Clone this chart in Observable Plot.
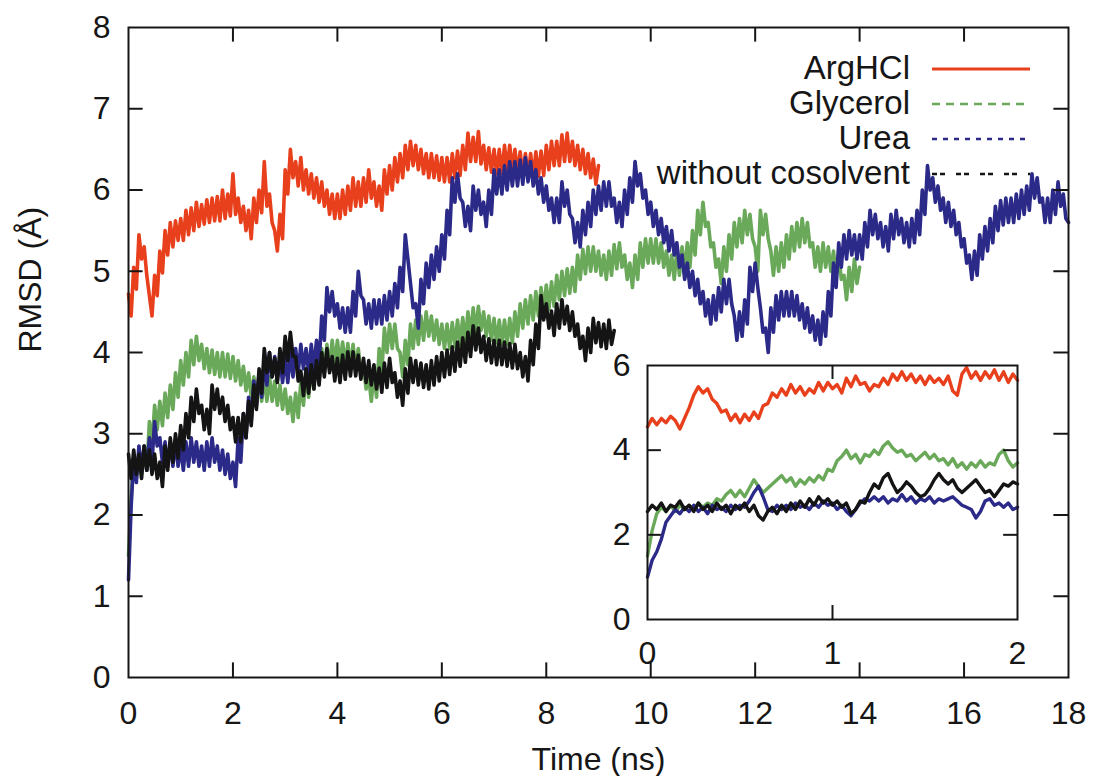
<!DOCTYPE html>
<html>
<head>
<meta charset="utf-8">
<script src="https://cdn.jsdelivr.net/npm/d3@7"></script>
<script src="https://cdn.jsdelivr.net/npm/@observablehq/plot@0.6"></script>
<style>
  body { margin: 0; background: #fff; }
  #wrap { position: relative; width: 1093px; height: 776px; font-family: "Liberation Sans", Arial, sans-serif; }
  #wrap svg { position: absolute; overflow: visible; }
</style>
</head>
<body>
<div id="wrap"></div>
<script>
// ---------- data (RMSD in Å), upper/lower swings of the noisy traces ----------
const mainStep = 0.05;   // ns between samples, main panel
const insetStep = 0.025; // ns between samples, inset

const argHCl = [4.72,4.45,5.05,4.78,5.45,5.15,5.3,4.95,4.7,4.45,
  4.95,4.7,5.25,4.98,5.5,5.2,5.6,5.3,5.62,5.38,
  5.65,5.38,5.75,5.45,5.78,5.5,5.85,5.55,5.82,5.58,
  5.88,5.6,5.9,5.62,5.92,5.62,6.0,5.65,5.95,5.68,
  6.2,5.7,5.9,5.6,5.8,5.5,5.75,5.4,5.9,5.6,
  6.0,5.72,6.35,5.8,5.95,5.6,5.5,5.25,5.7,5.4,
  6.25,5.95,6.5,6.15,6.35,6.05,6.4,6.0,6.25,5.95,
  6.2,5.9,6.15,5.85,6.1,5.8,6.0,5.7,5.95,5.65,
  5.95,5.65,6.0,5.7,6.05,5.75,6.15,5.8,6.1,5.8,
  6.15,5.85,6.25,5.9,6.1,5.8,6.05,5.75,6.25,5.95,
  6.3,6.0,6.4,6.1,6.45,6.15,6.55,6.25,6.6,6.3,
  6.55,6.25,6.5,6.2,6.45,6.15,6.45,6.15,6.42,6.12,
  6.4,6.1,6.4,6.1,6.45,6.15,6.48,6.18,6.55,6.25,
  6.7,6.35,6.65,6.35,6.72,6.32,6.55,6.25,6.52,6.22,
  6.5,6.2,6.5,6.2,6.55,6.25,6.55,6.25,6.5,6.2,
  6.47,6.17,6.45,6.15,6.45,6.15,6.47,6.17,6.48,6.18,
  6.55,6.25,6.6,6.3,6.6,6.3,6.68,6.35,6.7,6.35,
  6.6,6.3,6.55,6.25,6.5,6.2,6.45,6.15,6.38,6.07,
  6.3];

const glycerol = [1.5,2.2,2.7,2.45,2.75,2.5,2.85,2.55,3.15,2.85,
  3.35,3.05,3.4,3.1,3.5,3.2,3.6,3.3,3.75,3.45,
  3.9,3.6,4.0,3.7,4.15,3.85,4.2,3.9,4.1,3.8,
  4.05,3.75,4.03,3.73,4.0,3.7,4.0,3.7,3.98,3.68,
  3.95,3.65,3.9,3.6,3.83,3.53,3.75,3.45,3.7,3.4,
  3.7,3.4,3.7,3.4,3.7,3.4,3.65,3.35,3.6,3.3,
  3.55,3.25,3.45,3.15,3.5,3.2,3.65,3.35,3.75,3.45,
  3.85,3.55,3.95,3.65,4.05,3.75,4.1,3.8,4.15,3.85,
  4.15,3.85,4.13,3.83,4.11,3.81,4.1,3.8,4.05,3.75,
  3.85,3.55,3.7,3.4,3.75,3.45,4.05,3.75,4.3,4.0,
  4.35,4.05,4.35,4.05,4.0,3.7,4.15,3.85,4.35,4.05,
  4.4,4.1,4.45,4.15,4.5,4.2,4.45,4.15,4.4,4.1,
  4.35,4.05,4.35,4.05,4.37,4.07,4.4,4.1,4.43,4.13,
  4.5,4.2,4.55,4.25,4.57,4.27,4.5,4.2,4.45,4.15,
  4.42,4.12,4.4,4.1,4.4,4.1,4.42,4.12,4.5,4.2,
  4.6,4.3,4.65,4.35,4.7,4.4,4.75,4.45,4.8,4.5,
  4.83,4.53,4.87,4.57,4.95,4.65,5.0,4.7,5.03,4.73,
  5.05,4.75,5.2,4.9,5.27,4.97,5.3,5.0,5.3,5.0,
  5.25,4.95,5.2,4.9,5.25,4.95,5.33,5.03,5.35,5.05,
  5.2,4.9,5.1,4.8,5.2,4.9,5.35,5.05,5.4,5.1,
  5.4,5.1,5.4,5.1,5.35,5.05,5.25,4.95,5.2,4.9,
  5.25,4.95,5.3,5.0,5.35,5.05,5.5,5.2,5.75,5.45,
  5.85,5.55,5.6,5.3,5.35,5.05,5.15,4.85,5.3,5.0,
  5.45,5.15,5.6,5.3,5.65,5.35,5.75,5.45,5.7,5.4,
  5.3,5.0,5.75,5.45,5.7,5.4,5.25,4.95,5.3,5.0,
  5.35,5.05,5.45,5.15,5.55,5.25,5.6,5.3,5.65,5.35,
  5.6,5.3,5.35,5.05,5.3,5.0,5.35,5.05,5.3,5.0,
  5.25,4.95,5.2,4.9,4.95,4.65,5.05,4.75,5.15,4.85,
  5.05];

const urea = [1.2,2.1,2.7,2.4,2.85,2.55,2.85,2.55,2.95,2.65,
  3.15,2.85,2.95,2.65,2.9,2.6,2.9,2.6,2.9,2.6,
  2.85,2.55,2.9,2.6,2.95,2.65,2.9,2.6,2.85,2.55,
  2.9,2.6,2.95,2.65,2.85,2.55,2.8,2.5,2.75,2.45,
  2.65,2.35,2.95,2.65,3.25,2.95,3.45,3.15,3.65,3.35,
  3.75,3.45,3.9,3.6,4.0,3.7,3.95,3.65,3.93,3.63,
  3.93,3.63,4.0,3.7,4.05,3.75,4.1,3.8,4.05,3.75,
  4.1,3.8,4.15,3.85,4.45,4.15,4.8,4.5,4.75,4.45,
  4.6,4.3,4.55,4.25,4.55,4.25,4.75,4.45,5.0,4.7,
  4.65,4.35,4.6,4.3,4.65,4.35,4.65,4.35,4.7,4.4,
  4.75,4.45,4.85,4.55,5.05,4.75,5.45,5.15,4.85,4.55,
  4.6,4.3,4.9,4.6,5.1,4.8,5.2,4.9,5.3,5.0,
  5.45,5.15,5.75,5.45,6.15,5.85,6.2,5.9,5.85,5.55,
  5.8,5.5,6.05,5.75,6.0,5.7,5.85,5.55,6.0,5.7,
  6.25,5.95,6.25,5.95,6.3,6.0,6.35,6.05,6.35,6.05,
  6.37,6.07,6.4,6.1,6.35,6.05,6.25,5.95,6.15,5.85,
  6.05,5.75,5.9,5.6,5.9,5.6,6.1,5.8,6.0,5.7,
  5.65,5.35,5.6,5.3,5.75,5.45,5.85,5.55,6.0,5.7,
  6.05,5.75,6.1,5.8,6.1,5.8,5.9,5.6,5.85,5.55,
  6.0,5.7,6.15,5.85,6.35,6.05,6.2,5.9,6.0,5.7,
  5.85,5.55,5.75,5.45,5.65,5.35,5.55,5.25,5.5,5.2,
  5.35,5.05,5.2,4.9,5.1,4.8,5.0,4.7,4.9,4.6,
  4.75,4.45,4.65,4.35,4.7,4.4,4.8,4.5,4.9,4.6,
  4.9,4.6,4.45,4.15,4.5,4.2,4.65,4.35,5.05,4.75,
  5.1,4.8,4.55,4.25,4.3,4.0,4.55,4.25,4.7,4.4,
  4.75,4.45,4.75,4.45,4.75,4.45,4.7,4.4,4.6,4.3,
  4.55,4.25,4.45,4.15,4.4,4.1,4.5,4.2,4.75,4.45,
  5.1,4.8,5.35,5.05,5.45,5.15,5.5,5.2,5.45,5.15,
  5.45,5.15,5.6,5.3,5.75,5.45,5.7,5.4,5.6,5.3,
  5.55,5.25,5.7,5.4,5.75,5.45,5.65,5.35,5.6,5.3,
  5.65,5.35,5.75,5.45,6.0,5.7,6.3,6.0,6.15,5.85,
  6.05,5.75,5.9,5.6,5.85,5.55,5.75,5.45,5.6,5.3,
  5.4,5.1,5.2,4.9,5.25,4.95,5.45,5.15,5.55,5.25,
  5.65,5.35,5.8,5.5,5.87,5.57,5.9,5.6,5.9,5.6,
  5.95,5.65,6.0,5.7,6.05,5.75,6.2,5.9,6.15,5.85,
  5.9,5.6,5.9,5.6,6.0,5.7,6.1,5.8,5.95,5.65,
  5.6];

const noCosolvent = [2.75,2.45,2.8,2.5,2.75,2.45,2.85,2.55,2.8,2.5,
  2.75,2.45,2.65,2.35,2.85,2.55,2.95,2.65,3.0,2.7,
  3.1,2.8,3.25,2.95,3.45,3.15,3.55,3.25,3.35,3.05,
  3.3,3.0,3.6,3.3,3.55,3.25,3.45,3.15,3.35,3.05,
  3.2,2.9,3.2,2.9,3.25,2.95,3.4,3.1,3.6,3.3,
  3.8,3.5,4.05,3.75,4.0,3.7,3.93,3.63,4.05,3.75,
  4.2,3.9,4.25,3.95,3.95,3.65,3.77,3.47,3.8,3.5,
  3.85,3.55,3.9,3.6,4.0,3.7,4.05,3.75,3.95,3.65,
  3.93,3.63,3.97,3.67,4.01,3.71,4.01,3.71,3.97,3.67,
  3.93,3.63,3.9,3.6,3.85,3.55,3.81,3.51,3.87,3.57,
  3.93,3.63,3.75,3.45,3.65,3.35,3.8,3.5,3.93,3.63,
  3.9,3.6,3.87,3.57,3.85,3.55,3.9,3.6,3.95,3.65,
  4.0,3.7,4.03,3.73,4.07,3.77,4.13,3.83,4.18,3.88,
  4.25,3.95,4.33,4.03,4.3,4.0,4.2,3.9,4.17,3.87,
  4.15,3.85,4.15,3.85,4.13,3.83,4.11,3.81,4.1,3.8,
  4.0,3.7,3.95,3.65,4.15,3.85,4.35,4.05,4.7,4.4,
  4.6,4.3,4.51,4.21,4.6,4.3,4.65,4.35,4.57,4.27,
  4.5,4.2,4.35,4.05,4.2,3.9,4.3,4.0,4.42,4.12,
  4.37,4.07,4.35,4.05,4.4,4.1,4.27];

// inset: first 2 ns
const insetArgHCl = [4.55,4.75,4.6,4.75,4.65,4.8,4.7,4.5,4.75,5.0,
  5.3,5.5,5.35,5.45,5.2,5.1,4.9,4.95,4.7,4.85,
  4.65,4.85,4.7,4.9,4.75,5.05,5.1,5.35,5.25,5.45,
  5.3,5.55,5.35,5.5,5.3,5.45,5.35,5.6,5.4,5.6,
  5.45,5.55,5.35,5.7,5.5,5.75,5.55,5.6,5.4,5.55,
  5.5,5.7,5.55,5.8,5.65,5.85,5.65,5.8,5.6,5.75,
  5.55,5.75,5.6,5.7,5.55,5.75,5.4,5.3,5.8,5.95,
  5.7,5.85,5.65,5.85,5.7,5.9,5.65,5.85,5.6,5.8,
  5.65];
const insetGlycerol = [1.5,2.1,2.5,2.65,2.55,2.7,2.55,2.7,2.6,2.7,
  2.6,2.75,2.65,2.75,2.7,2.85,2.8,2.95,3.05,2.9,
  3.05,2.9,3.1,3.3,3.15,3.0,3.1,3.2,3.3,3.4,
  3.25,3.35,3.15,3.3,3.2,3.35,3.25,3.4,3.3,3.55,
  3.5,3.75,3.85,4.0,3.8,3.9,3.7,3.9,3.85,4.0,
  3.9,4.1,4.2,4.05,3.95,4.0,3.85,3.9,3.75,3.85,
  3.95,3.8,3.9,3.75,3.8,3.65,3.8,3.6,3.7,3.55,
  3.7,3.6,3.75,3.6,3.7,3.65,3.9,4.0,3.75,3.6,
  3.7];
const insetUrea = [1.0,1.4,1.6,1.9,2.3,2.45,2.6,2.5,2.65,2.55,
  2.7,2.55,2.65,2.5,2.7,2.6,2.65,2.55,2.7,2.6,
  2.7,2.65,2.8,3.0,3.15,2.9,2.6,2.55,2.7,2.6,
  2.7,2.6,2.75,2.65,2.7,2.6,2.75,2.65,2.8,2.7,
  2.75,2.6,2.7,2.55,2.45,2.6,2.75,2.85,2.8,2.9,
  2.8,2.9,2.75,2.85,2.8,2.95,2.8,2.9,2.75,2.85,
  2.8,2.9,2.75,2.85,2.8,2.85,2.9,2.8,2.7,2.65,
  2.6,2.4,2.55,2.8,2.85,2.7,2.75,2.65,2.75,2.6,
  2.65];
const insetNoCosolvent = [2.55,2.7,2.6,2.75,2.55,2.7,2.65,2.8,2.6,2.7,
  2.55,2.75,2.6,2.7,2.55,2.75,2.6,2.7,2.5,2.7,
  2.6,2.75,2.55,2.7,2.45,2.35,2.55,2.65,2.5,2.7,
  2.55,2.75,2.6,2.8,2.65,2.85,2.7,2.9,2.75,2.85,
  2.7,2.8,2.65,2.75,2.5,2.6,2.8,2.75,3.0,3.2,
  3.1,3.35,3.45,3.2,3.0,3.1,3.25,3.15,3.0,2.9,
  2.95,3.1,3.3,3.45,3.3,3.2,3.3,3.1,3.0,3.1,
  3.2,3.3,3.15,3.0,3.05,2.9,3.05,3.2,3.15,3.25,
  3.2];

const seriesNames = ["ArgHCl", "Glycerol", "Urea", "without cosolvent"];
const seriesColors = ["#e8401c", "#6aa85a", "#2c2a88", "#141414"];
const legendDash = [null, "8,6", "5,6", "5,3,5,11"];

const mainXTicks = [0, 2, 4, 6, 8, 10, 12, 14, 16, 18];
const mainYTicks = [0, 1, 2, 3, 4, 5, 6, 7, 8];
const insetXTicks = [0, 1, 2];
const insetYTicks = [0, 2, 4, 6];

// ---------- helpers ----------
function toRows(values, dt) {
  return values.map((v, i) => ({t: +(i * dt).toFixed(4), v}));
}
const mainData = [argHCl, glycerol, urea, noCosolvent].map(a => toRows(a, mainStep));
const insetData = [insetArgHCl, insetGlycerol, insetUrea, insetNoCosolvent].map(a => toRows(a, insetStep));

const FONT = "'Liberation Sans', Arial, Helvetica, sans-serif";
const INK = "#161616";
const wrap = document.getElementById("wrap");

// ---------- main panel ----------
const xMax = 18, yMax = 8;
const innerX = mainXTicks.slice(1, -1);
const innerY = mainYTicks.slice(1, -1);
const main = Plot.plot({
  width: 1093, height: 776,
  marginLeft: 128, marginRight: 25, marginTop: 27, marginBottom: 99,
  style: {fontFamily: FONT, fontSize: "32px", color: INK, background: "transparent"},
  x: {domain: [0, xMax], ticks: mainXTicks, tickSize: 0, tickPadding: 24, label: null, tickFormat: d3.format("d")},
  y: {domain: [0, yMax], ticks: mainYTicks, tickSize: 0, tickPadding: 18, label: null, tickFormat: d3.format("d")},
  marks: [
    ...mainData.map((rows, k) => Plot.line(rows, {x: "t", y: "v", stroke: seriesColors[k], strokeWidth: 3.6})),
    Plot.ruleY(innerY, {y: d => d, x1: 0, x2: 0.28, stroke: INK, strokeWidth: 2}),
    Plot.ruleY(innerY, {y: d => d, x1: xMax - 0.28, x2: xMax, stroke: INK, strokeWidth: 2}),
    Plot.ruleX(innerX, {x: d => d, y1: 0, y2: 0.18, stroke: INK, strokeWidth: 2}),
    Plot.ruleX(innerX, {x: d => d, y1: yMax - 0.18, y2: yMax, stroke: INK, strokeWidth: 2}),
    Plot.frame({stroke: INK, strokeWidth: 2}),
    Plot.text(["RMSD (Å)"], {frameAnchor: "left", dx: -98, rotate: -90, fontSize: 32, fill: INK}),
    Plot.text(["Time (ns)"], {frameAnchor: "bottom", dy: 92, fontSize: 32, fill: INK})
  ]
});
main.style.left = "0px"; main.style.top = "0px";
wrap.appendChild(main);

// ---------- inset ----------
const ixMax = 2, iyMax = 6;
const inset = Plot.plot({
  width: 450, height: 340,
  marginLeft: 57, marginRight: 23, marginTop: 25, marginBottom: 61,
  style: {fontFamily: FONT, fontSize: "32px", color: INK, background: "transparent"},
  x: {domain: [0, ixMax], ticks: insetXTicks, tickSize: 0, tickPadding: 22, label: null, tickFormat: d3.format("d")},
  y: {domain: [0, iyMax], ticks: insetYTicks, tickSize: 0, tickPadding: 17, label: null, tickFormat: d3.format("d")},
  marks: [
    Plot.frame({fill: "white", stroke: "none"}),
    ...insetData.map((rows, k) => Plot.line(rows, {x: "t", y: "v", stroke: seriesColors[k], strokeWidth: 3.4})),
    Plot.ruleY([2, 4], {y: d => d, x1: 0, x2: 0.075, stroke: INK, strokeWidth: 2}),
    Plot.ruleY([2, 4], {y: d => d, x1: ixMax - 0.075, x2: ixMax, stroke: INK, strokeWidth: 2}),
    Plot.ruleX([1], {x: d => d, y1: 0, y2: 0.33, stroke: INK, strokeWidth: 2}),
    Plot.ruleX([1], {x: d => d, y1: iyMax - 0.33, y2: iyMax, stroke: INK, strokeWidth: 2}),
    Plot.frame({stroke: INK, strokeWidth: 2})
  ]
});
inset.style.left = "590px"; inset.style.top = "340px";
wrap.appendChild(inset);

// ---------- legend ----------
const leg = d3.select(wrap).append("svg")
  .attr("width", 1093).attr("height", 776)
  .style("left", "0px").style("top", "0px")
  .style("pointer-events", "none");
seriesNames.forEach((name, k) => {
  const base = 79 + k * 35;
  leg.append("text")
    .attr("x", 910).attr("y", base)
    .attr("text-anchor", "end")
    .attr("font-family", FONT).attr("font-size", 33).attr("fill", INK)
    .text(name);
  const ln = leg.append("line")
    .attr("x1", 932).attr("x2", 1030)
    .attr("y1", base - 10).attr("y2", base - 10)
    .attr("stroke", seriesColors[k]).attr("stroke-width", k === 0 ? 3 : 2.5);
  if (legendDash[k]) ln.attr("stroke-dasharray", legendDash[k]);
});
</script>
</body>
</html>
